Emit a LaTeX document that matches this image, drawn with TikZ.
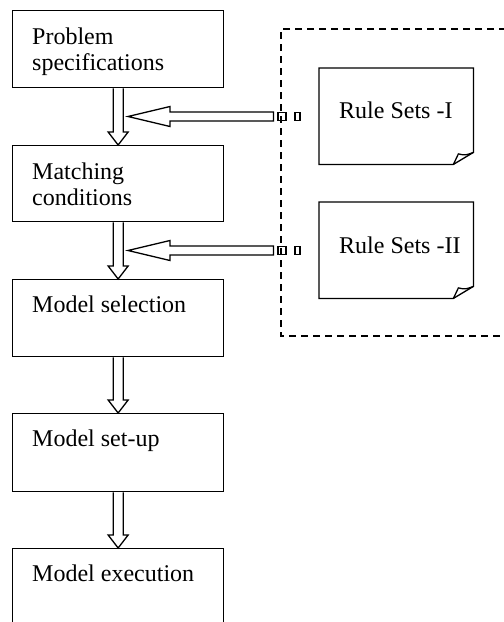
\documentclass[tikz,border=0pt]{standalone}
\usepackage{fontspec}
\setmainfont{Liberation Serif}
\usetikzlibrary{calc}
\tikzset{
 box/.style={draw, line width=1.3pt, anchor=north west, minimum width=211pt, minimum height=77pt, inner sep=0pt},
 rsbox/.style={anchor=north west, minimum width=154pt, minimum height=96pt, inner sep=0pt},
 lbl/.style={anchor=base west, inner sep=0pt, font=\fontsize{24}{26}\selectfont, align=left},
 fat/.style={draw, line width=1.3pt, fill=white, line join=miter},
 port/.style={draw, line width=1.2pt, minimum width=8pt, minimum height=8pt, inner sep=0pt},
 dashedframe/.style={draw, line width=1.3pt, dash pattern=on 7pt off 5pt},
 outline/.style={draw, line width=1.3pt, line join=miter},
}
% vertical fat arrow from node #1 (south) to node #2 (north)
\newcommand\vfat[2]{%
 \draw[fat] ($(#1.south)+(-5,0)$) -- ($(#2.north)+(-5,-13)$) -- ($(#2.north)+(-10,-13)$)
   -- (#2.north) -- ($(#2.north)+(10,-13)$) -- ($(#2.north)+(5,-13)$) -- ($(#1.south)+(5,0)$);}
% horizontal fat arrow from port node #1 (west) to tip coordinate #2
\newcommand\hfat[2]{%
 \draw[fat] ($(#1.west)+(-4,-4.5)$) -- ($(#2)+(42,-4.5)$) -- ($(#2)+(42,-10)$) -- (#2)
   -- ($(#2)+(42,10)$) -- ($(#2)+(42,4.5)$) -- ($(#1.west)+(-4,4.5)$) -- cycle;}
% rule set box with folded corner
\newcommand\rulebox[1]{%
 \draw[outline] (#1.south west) -- (#1.north west) -- (#1.north east) -- ($(#1.south east)+(0,-12)$)
   -- ($(#1.south east)+(-20,0)$) -- cycle;
 \draw[outline] ($(#1.south east)+(-20,0)$) -- ($(#1.south east)+(-15,-10.5)$)
   .. controls ($(#1.south east)+(-8,-9)$) .. ($(#1.south east)+(0,-12)$);}
\begin{document}
\begin{tikzpicture}[x=1pt,y=-1pt]
\useasboundingbox (0,0) rectangle (504,622);
\fill[white] (0,0) rectangle (504,622);
\clip (0,0) rectangle (504,622);

% dashed frame
\draw[dashedframe] (530,29) -- (281,29) -- (281,336) -- (530,336);

% process boxes
\node[box] (b1) at (12,10) {};
\node[box, minimum height=76pt] (b2) at (12,145) {};
\node[box] (b3) at (12,279) {};
\node[box, minimum height=78pt] (b4) at (12,413) {};
\node[box, minimum height=100pt] (b5) at (12,548) {};

\node[lbl] at ($(b1.north west)+(20,60)$) {Problem\\specifications};
\node[lbl] at ($(b2.north west)+(20,60)$) {Matching\\conditions};
\node[lbl] at ($(b3.north west)+(20,33)$) {Model selection};
\node[lbl] at ($(b4.north west)+(20,33)$) {Model set-up};
\node[lbl] at ($(b5.north west)+(20,33)$) {Model execution};

% vertical arrows
\vfat{b1}{b2}
\vfat{b2}{b3}
\vfat{b3}{b4}
\vfat{b4}{b5}

% rule set boxes
\node[rsbox] (rs1) at (319,68) {};
\node[rsbox] (rs2) at (319,202) {};
\rulebox{rs1}
\rulebox{rs2}
\node[lbl] at ($(rs1.north west)+(20,50)$) {Rule Sets -I};
\node[lbl] at ($(rs2.north west)+(20,51)$) {Rule Sets -II};

% ports
\node[port] (p1a) at (282,116.5) {};
\node[port, minimum width=5pt] (p1b) at (297.5,116.5) {};
\node[port] (p2a) at (282,250.5) {};
\node[port, minimum width=5pt] (p2b) at (297.5,250.5) {};

% arrow tips
\coordinate (t1) at (128,116.5);
\coordinate (t2) at (128,250.5);
\hfat{p1a}{t1}
\hfat{p2a}{t2}
\end{tikzpicture}
\end{document}
